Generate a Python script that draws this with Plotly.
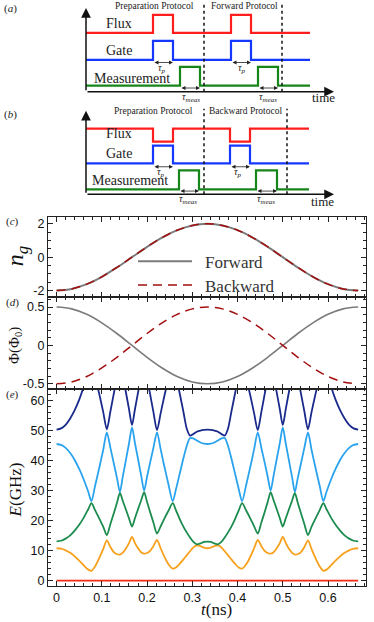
import plotly.graph_objects as go

W, H = 374, 622

# ---------------- schematic pulse sequences, (a) forward / (b) backward
# times in sketch units measured from the time-axis origin
a_end = 224
a_flux_pulses = [(67, 87), (145, 165)]
a_gate_pulses = [(67, 87), (145, 165)]
a_meas_pulses = [(94, 114), (172, 192)]
a_separators = [118, 196]
a_flux_lvl = [59, 77]      # [base, pulse]
a_gate_lvl = [32, 51]
a_meas_lvl = [6, 25]

b_end = 223
b_flux_pulses = [(67, 87), (144, 164)]
b_gate_pulses = [(67, 87), (144, 164)]
b_meas_pulses = [(93, 113), (170, 191)]
b_separators = [118, 201]
b_flux_lvl = [66, 53]      # flux dips in the backward protocol
b_gate_lvl = [31, 49]
b_meas_lvl = [5, 24]

# ---------------- drive: n_g(t) and flux(t)
t_drive = [0, 0.0333, 0.0667, 0.1, 0.1333, 0.1667, 0.2, 0.2333, 0.2667, 0.3, 0.3333,
           0.3667, 0.4, 0.4333, 0.4667, 0.5, 0.5333, 0.5667, 0.6, 0.6333, 0.6667]
ng_fwd = [-2, -1.902, -1.618, -1.176, -0.618, 0, 0.618, 1.176, 1.618, 1.902, 2,
          1.902, 1.618, 1.176, 0.618, 0, -0.618, -1.176, -1.618, -1.902, -2]
ng_bwd = ng_fwd[:]
phi_fwd = [0.5, 0.476, 0.405, 0.294, 0.155, 0, -0.155, -0.294, -0.405, -0.476, -0.5,
           -0.476, -0.405, -0.294, -0.155, 0, 0.155, 0.294, 0.405, 0.476, 0.5]
phi_bwd = [-0.5, -0.476, -0.405, -0.294, -0.155, 0, 0.155, 0.294, 0.405, 0.476, 0.5,
           0.476, 0.405, 0.294, 0.155, 0, -0.155, -0.294, -0.405, -0.476, -0.5]

# ---------------- spectrum E_k(t) - E_0(t) in GHz
t_E = [0, 0.01, 0.02, 0.03, 0.04, 0.05, 0.06, 0.07, 0.077, 0.085, 0.095, 0.103, 0.111,
       0.119, 0.127, 0.134, 0.14, 0.146, 0.153, 0.16, 0.1667, 0.173, 0.18, 0.187, 0.1935,
       0.2, 0.206, 0.214, 0.222, 0.23, 0.238, 0.247, 0.2567, 0.264, 0.272, 0.28, 0.288,
       0.295, 0.302, 0.31, 0.318, 0.326, 0.3333,
       0.3407, 0.3487, 0.3567, 0.3647, 0.3717, 0.3787, 0.3867, 0.3947, 0.4027, 0.41,
       0.4197, 0.4287, 0.4367, 0.4447, 0.4527, 0.4607, 0.4667, 0.4732, 0.4797, 0.4867,
       0.4937, 0.5, 0.5067, 0.5137, 0.5207, 0.5267, 0.5327, 0.5397, 0.5477, 0.5557,
       0.5637, 0.5717, 0.5817, 0.5897, 0.5967, 0.6067, 0.6167, 0.6267, 0.6367, 0.6467,
       0.6567, 0.6667]
E0 = [0] * len(t_E)
E1 = [10.8, 10.64, 10.12, 9.27, 8.11, 6.68, 5.1, 3.69, 3.3, 4.75, 7.75, 10.5, 13.45,
      11.2, 9.45, 8.8, 8.7, 9.26, 10.6, 12.5, 14.6, 12.6, 10.8, 9.49, 9.0,
      9.23, 9.85, 11.5, 13.55, 10.8, 8.1, 5.56, 4.0, 4.4, 5.6, 7.0, 8.5,
      9.8, 11.0, 11.8, 11.5, 11.0, 10.8,
      11.0, 11.5, 11.8, 11.0, 9.8, 8.5, 7.0, 5.6, 4.4, 4.0,
      5.56, 8.1, 10.8, 13.55, 11.5, 9.85, 9.23, 9.0, 9.49, 10.8,
      12.6, 14.6, 12.5, 10.6, 9.26, 8.7, 8.8, 9.45, 11.2, 13.45,
      10.5, 7.75, 4.75, 3.3, 3.69, 5.1, 6.68, 8.11, 9.27, 10.12,
      10.64, 10.8]
E2 = [13.1, 13.3, 14.0, 15.1, 16.7, 18.6, 21.0, 23.8, 25.8, 23.5, 20.5, 18.0, 15.2,
      18.9, 22.7, 26.2, 29.2, 26.7, 23.8, 20.8, 18.0, 20.7, 23.8, 26.8, 29.5,
      26.2, 23.2, 19.4, 15.7, 18.1, 20.6, 23.2, 25.8, 23.4, 20.6, 18.1, 16.0,
      14.4, 13.0, 12.1, 12.4, 12.9, 13.0,
      12.9, 12.4, 12.1, 13.0, 14.4, 16.0, 18.1, 20.6, 23.4, 25.8,
      23.2, 20.6, 18.1, 15.7, 19.4, 23.2, 26.2, 29.5, 26.8, 23.8,
      20.7, 18.0, 20.8, 23.8, 26.7, 29.2, 26.2, 22.7, 18.9, 15.2,
      18.0, 20.5, 23.5, 25.8, 23.8, 21.0, 18.6, 16.7, 15.1, 14.0,
      13.3, 13.1]
E3 = [45.5, 45.2, 44.2, 42.5, 40.2, 37.2, 33.7, 29.6, 26.5, 31.5, 38.0, 43.5, 49.4,
      44.2, 38.7, 33.8, 29.5, 34.4, 40.0, 45.6, 51.0, 46.0, 40.5, 35.0, 30.0,
      34.6, 38.8, 44.2, 49.4, 43.8, 38.2, 32.3, 26.5, 30.5, 35.5, 40.5, 45.0,
      47.5, 47.4, 46.7, 46.0, 45.6, 45.5,
      45.6, 46.0, 46.7, 47.4, 47.5, 45.0, 40.5, 35.5, 30.5, 26.5,
      32.3, 38.2, 43.8, 49.4, 44.2, 38.8, 34.6, 30.0, 35.0, 40.5,
      46.0, 51.0, 45.6, 40.0, 34.4, 29.5, 33.8, 38.7, 44.2, 49.4,
      43.5, 38.0, 31.5, 26.5, 29.6, 33.7, 37.2, 40.2, 42.5, 44.2,
      45.2, 45.5]
E4 = [50.3, 50.7, 51.9, 54.0, 56.8, 60.3, 64.6, 69.6, 73.0, 68.1, 61.7, 56.2, 50.4,
      56.4, 62.7, 68.4, 73.4, 68.5, 62.9, 57.2, 51.8, 56.9, 62.6, 68.2, 73.3,
      67.6, 62.7, 56.2, 50.1, 55.7, 61.3, 67.2, 73.0, 68.5, 62.5, 56.5, 50.5,
      48.3, 48.8, 49.6, 50.0, 50.2, 50.3,
      50.2, 50.0, 49.6, 48.8, 48.3, 50.5, 56.5, 62.5, 68.5, 73.0,
      67.2, 61.3, 55.7, 50.1, 56.2, 62.7, 67.6, 73.3, 68.2, 62.6,
      56.9, 51.8, 57.2, 62.9, 68.5, 73.4, 68.4, 62.7, 56.4, 50.4,
      56.2, 61.7, 68.1, 73.0, 69.6, 64.6, 60.3, 56.8, 54.0, 51.9,
      50.7, 50.3]

level_colors = ["#f22a14", "#f7a01c", "#1c8c4e", "#2aa3ef", "#1a2a8c"]

SERIF = "Liberation Serif, Times New Roman, serif"
SANS = "Liberation Sans, Arial, sans-serif"


def px(x):
    return x / W


def py(y):
    return 1 - y / H


def steps(pulses, lvl, end):
    base, top = lvl
    xs, ys = [0], [base]
    for a, b in pulses:
        xs += [a, a, b, b]
        ys += [base, top, top, base]
    xs.append(end)
    ys.append(base)
    return xs, ys


fig = go.Figure()

# ---- schematics
for ax, (pulses, lvls, end, seps) in zip(
        ["4", "5"],
        [((a_flux_pulses, a_gate_pulses, a_meas_pulses), (a_flux_lvl, a_gate_lvl, a_meas_lvl), a_end, a_separators),
         ((b_flux_pulses, b_gate_pulses, b_meas_pulses), (b_flux_lvl, b_gate_lvl, b_meas_lvl), b_end, b_separators)]):
    for p, l, c in zip(pulses, lvls, ["#ff1e1e", "#1438ff", "#16861a"]):
        xs, ys = steps(p, l, end)
        fig.add_trace(go.Scatter(x=xs, y=ys, mode="lines", line=dict(color=c, width=2.2),
                                 xaxis="x" + ax, yaxis="y" + ax, hoverinfo="skip"))
    top = 90 if ax == "4" else 86
    for s in seps:
        fig.add_trace(go.Scatter(x=[s, s], y=[0, top], mode="lines",
                                 line=dict(color="#111", width=1.5, dash="dot"),
                                 xaxis="x" + ax, yaxis="y" + ax, hoverinfo="skip"))

# ---- n_g
fig.add_trace(go.Scatter(x=t_drive, y=ng_fwd, mode="lines", line=dict(color="#7b7b7b", width=2, shape="spline"),
                         xaxis="x3", yaxis="y3"))
fig.add_trace(go.Scatter(x=t_drive, y=ng_bwd, mode="lines",
                         line=dict(color="#a30f0f", width=1.5, dash="9px,6px", shape="spline"),
                         xaxis="x3", yaxis="y3"))
# ---- flux
fig.add_trace(go.Scatter(x=t_drive, y=phi_fwd, mode="lines", line=dict(color="#7b7b7b", width=1.6, shape="spline"),
                         xaxis="x2", yaxis="y2"))
fig.add_trace(go.Scatter(x=t_drive, y=phi_bwd, mode="lines",
                         line=dict(color="#a30f0f", width=1.5, dash="9px,6px", shape="spline"),
                         xaxis="x2", yaxis="y2"))
# ---- spectrum
for E, c in zip([E0, E1, E2, E3, E4], level_colors):
    fig.add_trace(go.Scatter(x=t_E, y=E, mode="lines", line=dict(color=c, width=1.8, shape="spline", smoothing=0.8),
                             xaxis="x", yaxis="y"))

frame = dict(showline=True, linecolor="#222", linewidth=1.3, mirror="allticks", ticks="inside",
             ticklen=5, tickwidth=1, tickcolor="#222", showgrid=False, zeroline=False,
             tickfont=dict(family=SANS, size=12.5, color="#111"))
xdom = [px(48), px(366)]
xr = [-0.019, 0.684]
xminor = dict(dtick=0.02, tick0=0, ticks="inside", ticklen=2.5, tickcolor="#222", showgrid=False)

fig.update_layout(
    width=W, height=H, margin=dict(l=0, r=0, t=0, b=0),
    paper_bgcolor="white", plot_bgcolor="white", showlegend=False,
    xaxis=dict(frame, domain=xdom, range=xr, anchor="y", tickvals=[0, 0.1, 0.2, 0.3, 0.4, 0.5, 0.6],
               ticktext=["0", "0.1", "0.2", "0.3", "0.4", "0.5", "0.6"], minor=xminor),
    yaxis=dict(frame, domain=[py(588), py(390)], range=[-1.8, 63.9], anchor="x",
               tickvals=[0, 10, 20, 30, 40, 50, 60], minor=dict(dtick=2, tick0=0, ticks="inside", ticklen=2.5, tickcolor="#222")),
    xaxis2=dict(frame, domain=xdom, range=xr, anchor="y2", tickvals=[0, 0.1, 0.2, 0.3, 0.4, 0.5, 0.6],
                showticklabels=False, minor=xminor),
    yaxis2=dict(frame, domain=[py(390), py(298)], range=[-0.565, 0.63], anchor="x2",
                tickvals=[-0.5, 0, 0.5], ticktext=["-0.5", "0", "0.5"],
                minor=dict(dtick=0.1, tick0=0, ticks="inside", ticklen=2.5, tickcolor="#222")),
    xaxis3=dict(frame, domain=xdom, range=xr, anchor="y3", tickvals=[0, 0.1, 0.2, 0.3, 0.4, 0.5, 0.6],
                showticklabels=False, minor=xminor),
    yaxis3=dict(frame, domain=[py(298), py(218)], range=[-2.39, 2.39], anchor="x3",
                tickvals=[-2, 0, 2], ticktext=["-2", "0", "2"],
                minor=dict(dtick=0.5, tick0=0, ticks="inside", ticklen=2.5, tickcolor="#222")),
    xaxis4=dict(domain=[0, 1], range=[-86, 288], visible=False, anchor="y4"),
    yaxis4=dict(domain=[py(100), 1], range=[-8, 92], visible=False, anchor="x4"),
    xaxis5=dict(domain=[0, 1], range=[-86, 288], visible=False, anchor="y5"),
    yaxis5=dict(domain=[py(205), py(100)], range=[-10, 95], visible=False, anchor="x5"),
)

ann = []
# paper-space labels
for txt, x, y, s in [("(<i>a</i>)", 10, 9, 11), ("(<i>b</i>)", 10, 115, 11), ("(<i>c</i>)", 12, 222, 11),
                     ("(<i>d</i>)", 12, 303, 11), ("(<i>e</i>)", 12, 396, 11)]:
    ann.append(dict(text=txt, x=px(x), y=py(y), xref="paper", yref="paper", showarrow=False,
                    xanchor="center", yanchor="middle",
                    font=dict(family=SERIF, size=s, color="#222")))
for txt, x, y, s, ang in [("<i>n</i><sub><i>g</i></sub>", 17, 257, 24, -90),
                          ("Φ(Φ<sub>0</sub>)", 15, 347, 15, -90),
                          ("<i>E</i>(GHz)", 15, 492, 17, -90),
                          ("<i>t</i>(ns)", 216, 611, 17, 0)]:
    ann.append(dict(text=txt, x=px(x), y=py(y), xref="paper", yref="paper", showarrow=False, textangle=ang,
                    xanchor="center", yanchor="middle",
                    font=dict(family=SERIF, size=s, color="#111")))
# manual legend of panel (c)
for txt, y in [("Forward", 263), ("Backward", 287)]:
    ann.append(dict(text=txt, x=px(203), y=py(y), xref="paper", yref="paper", showarrow=False,
                    xanchor="left", yanchor="middle",
                    font=dict(family=SERIF, size=17, color="#333")))
shapes = [
    dict(type="line", xref="paper", yref="paper", x0=px(138), x1=px(192), y0=py(262), y1=py(262),
         line=dict(color="#7b7b7b", width=2)),
    dict(type="line", xref="paper", yref="paper", x0=px(138), x1=px(192), y0=py(286), y1=py(286),
         line=dict(color="#a30f0f", width=1.5, dash="9px,6px")),
]

# schematic texts and arrows
sch_text = {
    "4": [("Preparation Protocol", 68, 86, 9.5), ("Forward Protocol", 158, 86, 9.5),
          ("Flux", 33, 68.7, 14), ("Gate", 33, 41.3, 14), ("Measurement", 46, 13.7, 14),
          ("time", 237, -6, 13),
          ("<i>τ<sub>p</sub></i>", 76, 23, 10), ("<i>τ<sub>p</sub></i>", 155.5, 23, 10),
          ("<i>τ<sub>meas</sub></i>", 105, -5.5, 10), ("<i>τ<sub>meas</sub></i>", 182, -5.5, 10)],
    "5": [("Preparation Protocol", 67, 83.3, 9.5), ("Backward Protocol", 159, 83.3, 9.5),
          ("Flux", 33, 60.7, 14), ("Gate", 33, 41, 14), ("Measurement", 44, 14, 14),
          ("time", 236, -6.7, 13),
          ("<i>τ<sub>p</sub></i>", 75, 22, 10), ("<i>τ<sub>p</sub></i>", 152, 22, 10),
          ("<i>τ<sub>meas</sub></i>", 102, -5.5, 10), ("<i>τ<sub>meas</sub></i>", 180, -5.5, 10)],
}
for ax, items in sch_text.items():
    for txt, x, y, s in items:
        ann.append(dict(text=txt, x=x, y=y, xref="x" + ax, yref="y" + ax, showarrow=False,
                        xanchor="center", yanchor="middle",
                        font=dict(family=SERIF, size=s, color="#222")))
    # axes arrows
    for (x0, y0, x1, y1) in [(0, 0, 248, 0), (0, 0, 0, 84)]:
        ann.append(dict(text="", x=x1, y=y1, ax=x0, ay=y0, xref="x" + ax, yref="y" + ax,
                        axref="x" + ax, ayref="y" + ax, showarrow=True, arrowhead=2, arrowsize=1.3,
                        arrowwidth=1.5, arrowcolor="#111", standoff=0))

# tau double arrows
tau_a = [((67, 87), 29.3), ((145, 165), 29.3), ((94, 114), 3.7), ((172, 192), 3.7)]
tau_b = [((67, 87), 27.7), ((144, 164), 27.7), ((93, 113), 3.3), ((170, 191), 3.3)]
for ax, items in [("4", tau_a), ("5", tau_b)]:
    for (x0, x1), y in items:
        ann.append(dict(text="", x=x1, y=y, ax=x0, ay=y, xref="x" + ax, yref="y" + ax,
                        axref="x" + ax, ayref="y" + ax, showarrow=True, arrowhead=2, arrowside="end+start",
                        arrowsize=1.0, arrowwidth=0.8, arrowcolor="#222", standoff=0, startstandoff=0))

fig.update_layout(annotations=ann, shapes=shapes)
fig.write_html("out.html", config={"displayModeBar": False},
               post_script="document.body.style.margin='0';")
